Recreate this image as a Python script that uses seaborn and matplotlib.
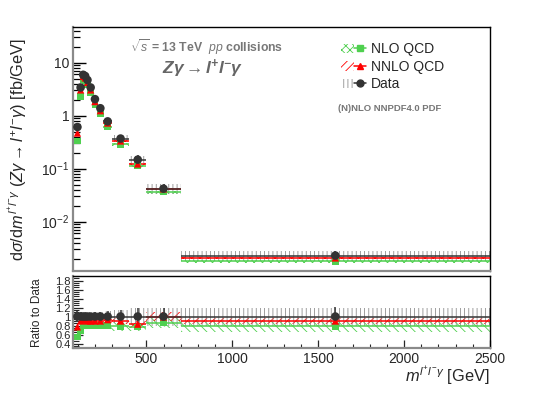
import numpy as np
import pandas as pd
import matplotlib
matplotlib.use("Agg")
import matplotlib.pyplot as plt
import matplotlib.ticker as mticker
from matplotlib.patches import Rectangle, Patch
from matplotlib.lines import Line2D
from matplotlib.legend_handler import HandlerTuple
import seaborn as sns

# ---------------- data ----------------
bin_edges = [90, 108, 127, 138, 150, 165, 187, 215, 250, 300, 400, 500, 700, 2500]
data_xsec = [0.61, 3.4, 5.9, 5.6, 4.7, 3.4, 2.05, 1.38, 0.78, 0.37, 0.148, 0.042, 0.0023]
data_rel_err = [0.12, 0.10, 0.08, 0.08, 0.08, 0.08, 0.09, 0.10, 0.12, 0.15, 0.20, 0.20, 0.22]
data_rel_syst = [0.12, 0.10, 0.09, 0.09, 0.09, 0.09, 0.10, 0.11, 0.13, 0.15, 0.18, 0.20, 0.20]
nlo_ratio = [0.54, 0.68, 0.80, 0.80, 0.80, 0.80, 0.80, 0.80, 0.80, 0.78, 0.77, 0.86, 0.78]
nnlo_ratio = [0.77, 0.90, 0.93, 0.92, 0.90, 0.90, 0.90, 0.90, 0.93, 0.90, 0.83, 0.99, 0.90]
nlo_rel_unc = [0.10, 0.10, 0.09, 0.09, 0.09, 0.09, 0.10, 0.10, 0.11, 0.12, 0.12, 0.14, 0.15]
nnlo_rel_unc = [0.06, 0.06, 0.06, 0.06, 0.06, 0.06, 0.06, 0.06, 0.07, 0.08, 0.09, 0.10, 0.08]
series_names = ["NLO QCD", "NNLO QCD", "Data"]

edges = np.array(bin_edges, dtype=float)
centers = 0.5 * (edges[:-1] + edges[1:])
halfw = 0.5 * (edges[1:] - edges[:-1])
data = np.array(data_xsec)
nlo = data * np.array(nlo_ratio)
nnlo = data * np.array(nnlo_ratio)

df_main = pd.concat([
    pd.DataFrame({"x": centers, "y": nlo, "series": "NLO QCD"}),
    pd.DataFrame({"x": centers, "y": nnlo, "series": "NNLO QCD"}),
    pd.DataFrame({"x": centers, "y": data, "series": "Data"}),
])
df_ratio = pd.concat([
    pd.DataFrame({"x": centers, "y": np.array(nlo_ratio), "series": "NLO QCD"}),
    pd.DataFrame({"x": centers, "y": np.array(nnlo_ratio), "series": "NNLO QCD"}),
    pd.DataFrame({"x": centers, "y": np.ones_like(centers), "series": "Data"}),
])

# ---------------- style ----------------
sns.set_theme(style="ticks")
plt.rcParams["font.family"] = ["Liberation Sans", "DejaVu Sans"]
plt.rcParams["mathtext.fontset"] = "custom"
plt.rcParams["mathtext.rm"] = "Liberation Sans"
plt.rcParams["mathtext.it"] = "Liberation Sans:italic"
plt.rcParams["mathtext.bf"] = "Liberation Sans:bold"
plt.rcParams["mathtext.sf"] = "Liberation Sans:bold:italic"
plt.rcParams["hatch.linewidth"] = 0.6

GREEN = "#4fd04f"
RED = "#ff0000"
BLACK = "#333333"
GRAY = "#8f8f8f"
palette = {"NLO QCD": GREEN, "NNLO QCD": RED, "Data": BLACK}
markers = {"NLO QCD": "s", "NNLO QCD": "^", "Data": "o"}
sizes = {"NLO QCD": 22, "NNLO QCD": 28, "Data": 38}

fig = plt.figure(figsize=(5.45, 3.93), dpi=100)
ax = fig.add_axes([0.1345, 0.3117, 0.7645, 0.6196])
axr = fig.add_axes([0.1345, 0.1145, 0.7645, 0.1832])


def draw_bands(a, yvals_by_series, rel_by_series, hatch_by_series):
    for name in ["NLO QCD", "NNLO QCD", "Data"]:
        yv = yvals_by_series[name]
        rel = rel_by_series[name]
        col = GRAY if name == "Data" else palette[name]
        for lo, hi, y, r in zip(edges[:-1], edges[1:], yv, rel):
            a.add_patch(Rectangle((lo, y * (1 - r)), hi - lo, 2 * r * y, fill=False,
                                  hatch=hatch_by_series[name], edgecolor=col, lw=0, zorder=1))


def draw_binlines(a, df):
    for name in ["NLO QCD", "NNLO QCD", "Data"]:
        sub = df[df.series == name]
        a.errorbar(sub.x, sub.y, xerr=halfw, fmt="none", ecolor=palette[name],
                   elinewidth=1.1, capsize=0, zorder=3)


# main panel
draw_bands(ax,
           {"NLO QCD": nlo, "NNLO QCD": nnlo, "Data": data},
           {"NLO QCD": [0.06] * len(nlo), "NNLO QCD": [0.05] * len(nnlo), "Data": data_rel_syst},
           {"NLO QCD": "xxxx", "NNLO QCD": "xxxx", "Data": "||||"})
draw_binlines(ax, df_main)
ax.errorbar(centers, data, yerr=data * np.array(data_rel_err), fmt="none",
            ecolor=BLACK, elinewidth=1.1, zorder=4)
sns.scatterplot(data=df_main, x="x", y="y", hue="series", style="series", size="series",
                palette=palette, markers=markers, sizes=sizes, linewidth=0,
                legend=False, ax=ax, zorder=5)

# ratio panel
draw_bands(axr,
           {"NLO QCD": np.array(nlo_ratio), "NNLO QCD": np.array(nnlo_ratio), "Data": np.ones_like(centers)},
           {"NLO QCD": nlo_rel_unc, "NNLO QCD": nnlo_rel_unc, "Data": data_rel_syst},
           {"NLO QCD": "\\\\\\\\", "NNLO QCD": "////", "Data": "||||"})
draw_binlines(axr, df_ratio)
axr.errorbar(centers, np.array(nlo_ratio), yerr=np.array(nlo_ratio) * 0.07, fmt="none",
             ecolor=GREEN, elinewidth=1.0, zorder=3)
axr.errorbar(centers, np.array(nnlo_ratio), yerr=np.array(nnlo_ratio) * 0.05, fmt="none",
             ecolor=RED, elinewidth=1.0, zorder=3)
axr.errorbar(centers, np.ones_like(centers), yerr=np.array(data_rel_err), fmt="none",
             ecolor=BLACK, elinewidth=1.1, zorder=4)
sns.scatterplot(data=df_ratio, x="x", y="y", hue="series", style="series", size="series",
                palette=palette, markers=markers, sizes=sizes, linewidth=0,
                legend=False, ax=axr, zorder=5)

# ---------------- axes ----------------
for a in (ax, axr):
    a.set_xlim(75, 2500)
    for s in ("left", "bottom"):
        a.spines[s].set_color("#8a8a8a")
        a.spines[s].set_linewidth(1.6)
    for s in ("top", "right"):
        a.spines[s].set_color("black")
        a.spines[s].set_linewidth(1.0)
    a.set_xlabel("")
    a.set_ylabel("")

ax.set_yscale("log")
ax.set_ylim(1.2e-3, 47)
ax.yaxis.set_major_locator(mticker.FixedLocator([1e-2, 1e-1, 1, 10]))
ax.yaxis.set_major_formatter(mticker.FixedFormatter([r"$10^{-2}$", r"$10^{-1}$", "1", "10"]))
ax.yaxis.set_minor_locator(mticker.LogLocator(base=10, subs=np.arange(2, 10)))
ax.yaxis.set_minor_formatter(mticker.NullFormatter())
ax.tick_params(axis="y", which="major", direction="in", length=9, width=1.0, labelsize=10,
               color="black", left=True, right=False, pad=3)
ax.tick_params(axis="y", which="minor", direction="in", length=5, width=0.9, color="black")
ax.tick_params(axis="x", which="both", bottom=False, labelbottom=False)

axr.set_ylim(0.3, 1.9)
axr.yaxis.set_major_locator(mticker.FixedLocator([0.4, 0.6, 0.8, 1.0, 1.2, 1.4, 1.6, 1.8]))
axr.yaxis.set_major_formatter(mticker.FixedFormatter(["0.4", "0.6", "0.8", "1", "1.2", "1.4", "1.6", "1.8"]))
axr.yaxis.set_minor_locator(mticker.MultipleLocator(0.05))
axr.tick_params(axis="y", which="major", direction="in", length=7, width=0.9, labelsize=8, pad=2)
axr.tick_params(axis="y", which="minor", direction="in", length=4, width=0.8)
axr.xaxis.set_major_locator(mticker.FixedLocator([500, 1000, 1500, 2000, 2500]))
axr.xaxis.set_minor_locator(mticker.MultipleLocator(100))
axr.tick_params(axis="x", which="major", direction="in", length=6, width=0.9, labelsize=10, pad=3)
axr.tick_params(axis="x", which="minor", direction="in", length=3, width=0.8)

# ---------------- labels ----------------
fig.text(0.033, 0.62, r"d$\sigma$/d$m^{l^{+}l^{-}\gamma}$ ($Z\gamma\rightarrow l^{+}l^{-}\gamma$) [fb/GeV]",
         rotation=90, ha="center", va="center", fontsize=11.8)
fig.text(0.068, 0.205, "Ratio to Data", rotation=90, ha="center", va="center", fontsize=8.5)
fig.text(0.899, 0.043, r"$m^{l^{+}l^{-}\gamma}$ [GeV]", ha="right", va="center", fontsize=11.8)

ax.text(0.32, 0.918, r"$\sqrt{s}$ = 13 TeV  $\it{pp}$ collisions", transform=ax.transAxes,
        ha="center", va="center", fontsize=8.8, color="#777777", fontweight="bold")
ax.text(0.31, 0.83, r"$\mathsf{Z\gamma\rightarrow l^{+}l^{-}\gamma}$", transform=ax.transAxes,
        ha="center", va="center", fontsize=12.5, color="#666666")
ax.text(0.76, 0.664, "(N)NLO NNPDF4.0 PDF", transform=ax.transAxes,
        ha="center", va="center", fontsize=6.8, color="#777777", fontweight="bold")

handles = []
for name, hatch in zip(series_names, ["xxxx", "////", "||||"]):
    col = GRAY if name == "Data" else palette[name]
    h_patch = Patch(facecolor="none", edgecolor=col, hatch=hatch, lw=0)
    h_line = Line2D([], [], color=palette[name], marker=markers[name], markersize=5, lw=1.1)
    handles.append((h_patch, h_line))
leg = ax.legend(handles, series_names, handler_map={tuple: HandlerTuple(ndivide=None, pad=0)},
                loc="upper left", bbox_to_anchor=(0.63, 0.96), frameon=False, fontsize=10,
                handlelength=1.8, handletextpad=0.3, labelspacing=0.25, borderaxespad=0)

fig.savefig("out.png", dpi=100)
